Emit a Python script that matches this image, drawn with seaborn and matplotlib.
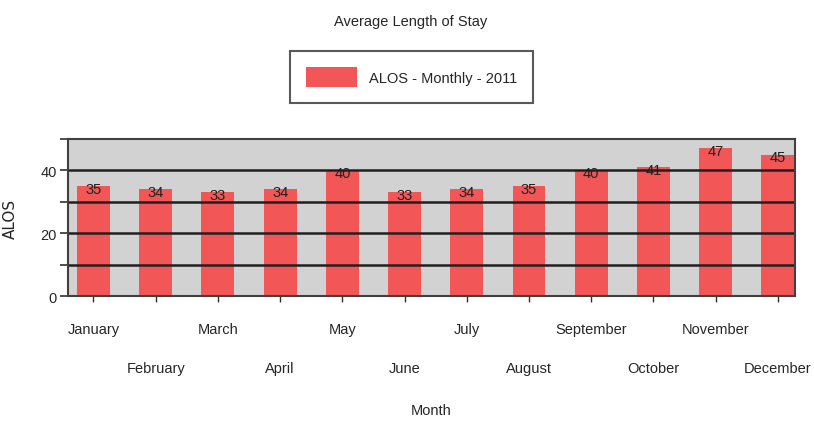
import matplotlib
matplotlib.use("Agg")
import matplotlib.pyplot as plt
import pandas as pd
import seaborn as sns
from matplotlib.ticker import MultipleLocator

MONTHS = ["January", "February", "March", "April", "May", "June",
          "July", "August", "September", "October", "November", "December"]
ALOS = [35, 34, 33, 34, 40, 33, 34, 35, 40, 41, 47, 45]
SERIES_LABEL = "ALOS - Monthly - 2011"

BAR_COLOR = "#F25656"
BG_COLOR = "#D2D2D2"

sns.set_theme(style="white")
plt.rcParams["font.family"] = ["Liberation Sans", "DejaVu Sans"]

df = pd.DataFrame({"Month": MONTHS, "ALOS": ALOS})

fig = plt.figure(figsize=(8.14, 4.27), dpi=100)
ax = fig.add_axes([0.0835, 0.3044, 0.8935, 0.3677])
ax.set_facecolor(BG_COLOR)

sns.barplot(data=df, x="Month", y="ALOS", color=BAR_COLOR, saturation=1,
            width=0.53, ax=ax, label=SERIES_LABEL, edgecolor="none", zorder=2)

ax.set_ylim(0, 50)
ax.set_xlim(-0.41, len(MONTHS) - 0.72)
ax.yaxis.set_major_locator(MultipleLocator(20))
ax.yaxis.set_minor_locator(MultipleLocator(10))
for y in [10, 20, 30, 40]:
    ax.axhline(y, color="#202020", lw=1.8, zorder=3)

for c in ax.containers:
    ax.bar_label(c, label_type="edge", padding=-7, fontsize=10.5, color="#202020", zorder=5)

for s in ax.spines.values():
    s.set_color("#404040")
    s.set_linewidth(1.5)
    s.set_zorder(4)

ax.tick_params(axis="y", which="both", direction="out", length=6, width=1.2,
               color="#303030", left=True, labelsize=10.5, pad=2)
ax.tick_params(axis="x", direction="out", length=4, width=1, color="#303030",
               bottom=True, labelsize=10.5)
for i, tick in enumerate(ax.xaxis.get_major_ticks()):
    tick.set_pad(15 if i % 2 == 0 else 43)

ax.set_xlabel("Month", fontsize=10.5, labelpad=20)
ax.set_ylabel("ALOS", fontsize=11, family="DejaVu Sans", labelpad=16)

fig.suptitle("Average Length of Stay", x=0.505, y=0.965, fontsize=10.5)
leg = fig.legend(loc="center", bbox_to_anchor=(0.506, 0.817), fontsize=10.5,
                 frameon=True, fancybox=False, edgecolor="#303030",
                 handlelength=3.5, handleheight=1.7, borderpad=1.1,
                 handletextpad=0.8)
leg.get_frame().set_linewidth(1.5)
if ax.get_legend() is not None:
    ax.get_legend().remove()

fig.savefig("out.png", dpi=100)
